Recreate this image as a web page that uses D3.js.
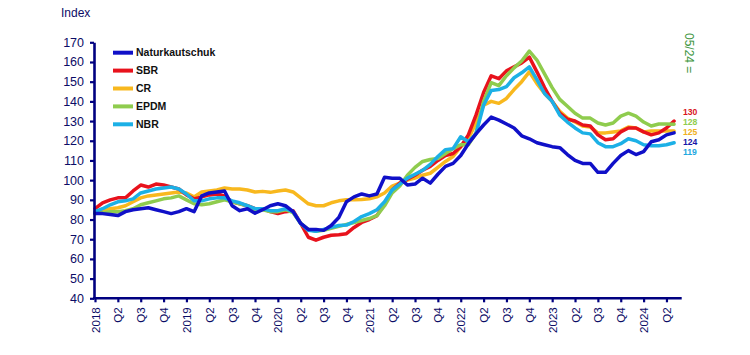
<!DOCTYPE html>
<html><head><meta charset="utf-8">
<script src="https://cdn.jsdelivr.net/npm/d3@7/dist/d3.min.js"></script>
<style>
html,body{margin:0;padding:0;background:#fff;}
svg{display:block;font-family:"Liberation Sans",Arial,sans-serif;}
</style></head>
<body>
<svg id="c" width="750" height="355"></svg>
<script>
const tickLabels = ["2018","Q2","Q3","Q4","2019","Q2","Q3","Q4","2020","Q2","Q3","Q4","2021","Q2","Q3","Q4","2022","Q2","Q3","Q4","2023","Q2","Q3","Q4","2024","Q2"];
const yTicks = [40,50,60,70,80,90,100,110,120,130,140,150,160,170];
const seriesNames = ["Naturkautschuk","SBR","CR","EPDM","NBR"];
const seriesColors = ["#1010c8","#e8121c","#f8b81e","#8fcc4e","#1cb0e6"];
const labelColors = ["#1616a8","#d8141c","#f0b020","#8fcc4e","#1ea8e0"];

const naturkautschuk = [83,83,82.5,82,84,85,85.5,86,85,84,83,84,85.5,84,92,93.5,94,94.5,87,84.5,
 85.5,83.2,85,87,88,87,84,78,75,75,74.5,77,81,89,91.5,93,92,93,101.5,101,
 101,97.5,98,101,98.5,103,107,108.5,112.5,118.5,123.5,128,132,130.5,128.5,126.5,122.5,121,119,118,
 117,116.5,113,110,108.5,108.5,104,104,108.5,112.5,115,113,114.5,119.5,120.5,123,124];
const sbr = [85.5,88.5,90,91,91,94.5,97.5,96.5,98,97.5,96.5,95.5,92.5,90.5,91.5,92.5,93,92,89,88,
 87,85.5,85.5,84,83,84,84.5,78,71,69.5,71,72,72.3,72.8,76,78.5,80,82,88,95,
 98.5,100.5,102.5,105,107,110,112.5,113.5,117,123,133,144.5,153,151.5,155.5,157.5,159.5,162.5,155,147,
 140,134,131,130,128,127.5,123,120.5,121,124.5,126.5,126.5,124.5,123,124,126.5,130];
const cr = [84,85,85.5,86,87,89,91,92,92.5,93,93.5,94,93.5,91.5,94,94.5,95,96,95.5,95.5,
 95,94,94.3,93.8,94.5,95,94,91,88,87,87,88.5,89.5,90,90,90.2,90.5,91.5,93.5,97,
 98.5,100,101,102.5,103.5,106.5,109.5,112,117,121,129,138,140,139,141.5,146,150,155,149,144,
 140,135,131.5,129.5,127.5,127,124,124,124.5,125,127,126.5,124.5,125,125,125,125];
const epdm = [83,83.5,84,84,84.5,85.5,87.5,88.5,89.5,90.5,91,92,90,88,87.5,88,89,90,89,88,
 87,85,85,84,84,85,83.5,78,75,74,74.5,75.5,76.5,77.5,78.5,79.5,80.5,82,87,93.5,
 97,102.5,106.5,109.5,110.5,111,113.5,116,118,118,124,140,149.5,148,153,157,160.5,165.5,161,154,
 147,141,137.5,134,131.5,131.5,129,128,129,132.5,134,132.5,129.5,127.5,128.5,128.5,128.4];
const nbr = [84,85.5,87.5,89,89.5,90.5,93.5,94.5,95.5,96,96.5,95.5,93,89.5,89.5,90.5,91,91,89.5,88.5,
 87,85.5,85.5,84.5,84.5,85.5,84,78,74.5,74,75,76,77,77.2,79,81.5,83,85,89,95,
 98,101,103,105,108,112,115.5,116,122,119.5,123.5,138,145.5,146,147.5,152,154.5,157.5,151,144,
 140,133,129.5,126.5,124,123.5,119,117,117,118.5,121,120,118,117.5,117.5,118,119];

const seriesData = [naturkautschuk, sbr, cr, epdm, nbr];
const navy = "#000080";
const svg = d3.select("#c");

const x = d3.scaleLinear().domain([0, 77]).range([95, 681.7]);
const y = d3.scaleLinear().domain([40, 170]).range([298.3, 42.3]);

// lines (draw order: CR, SBR, EPDM, NBR, NR on top)
const line = d3.line().x((d,i)=>x(i)).y(d=>y(d));
[2,1,3,4,0].forEach(k=>{
  svg.append("path").datum(seriesData[k])
    .attr("fill","none").attr("stroke",seriesColors[k])
    .attr("stroke-width",3.5).attr("stroke-linejoin","round").attr("stroke-linecap","round")
    .attr("d", line);
});

// y axis
const yAxis = svg.append("g").attr("transform","translate(94,0)")
  .call(d3.axisLeft(y).tickValues(yTicks).tickSize(4).tickSizeOuter(0).tickPadding(6));
yAxis.select(".domain").attr("stroke",navy).attr("stroke-width",2.6);
yAxis.selectAll(".tick line").attr("stroke",navy).attr("stroke-width",2.2);
yAxis.selectAll(".tick text").attr("fill","#0c0c66").style("font-size","12.5px")
  .style("font-family","'Liberation Sans',Arial,sans-serif");

// x axis
const xAxis = svg.append("g").attr("transform","translate(0,298.3)")
  .call(d3.axisBottom(x).tickValues(d3.range(0,76,3)).tickFormat((d,i)=>tickLabels[i])
        .tickSize(4).tickSizeOuter(0));
xAxis.select(".domain").attr("stroke",navy).attr("stroke-width",2.6).attr("d","M93,0H681.7");
xAxis.selectAll(".tick line").attr("stroke",navy).attr("stroke-width",2.2);
xAxis.selectAll(".tick text").attr("fill","#0c0c66").style("font-size","11.5px")
  .style("font-family","'Liberation Sans',Arial,sans-serif")
  .attr("transform","rotate(-90)").attr("x",-9).attr("y",0).attr("dy","0.35em")
  .style("text-anchor","end");

// Index label
svg.append("text").attr("x",61).attr("y",17).text("Index")
  .attr("fill","#0c0c66").style("font-size","12px");

// legend
seriesNames.forEach((n,k)=>{
  const ly = 52.7 + k*17.9;
  svg.append("line").attr("x1",113).attr("x2",133).attr("y1",ly).attr("y2",ly)
    .attr("stroke",seriesColors[k]).attr("stroke-width",4);
  svg.append("text").attr("x",136).attr("y",ly).attr("dy","0.36em").text(n)
    .attr("fill","#111").style("font-size","10.5px").style("font-weight","bold");
});

// date note
svg.append("text").attr("transform","translate(685,33) rotate(90)").text("05/24 =")
  .attr("fill","#3e963e").style("font-size","12px");

// end labels
const endLabelY = [142.2, 112.2, 132.2, 122.2, 152.4];
seriesData.forEach((s,k)=>{
  svg.append("text").attr("x",683).attr("y",endLabelY[k]).attr("dy","0.35em")
    .text(Math.round(s[s.length-1]))
    .attr("fill",labelColors[k]).style("font-size","8.6px").style("font-weight","bold");
});
</script>
</body></html>
